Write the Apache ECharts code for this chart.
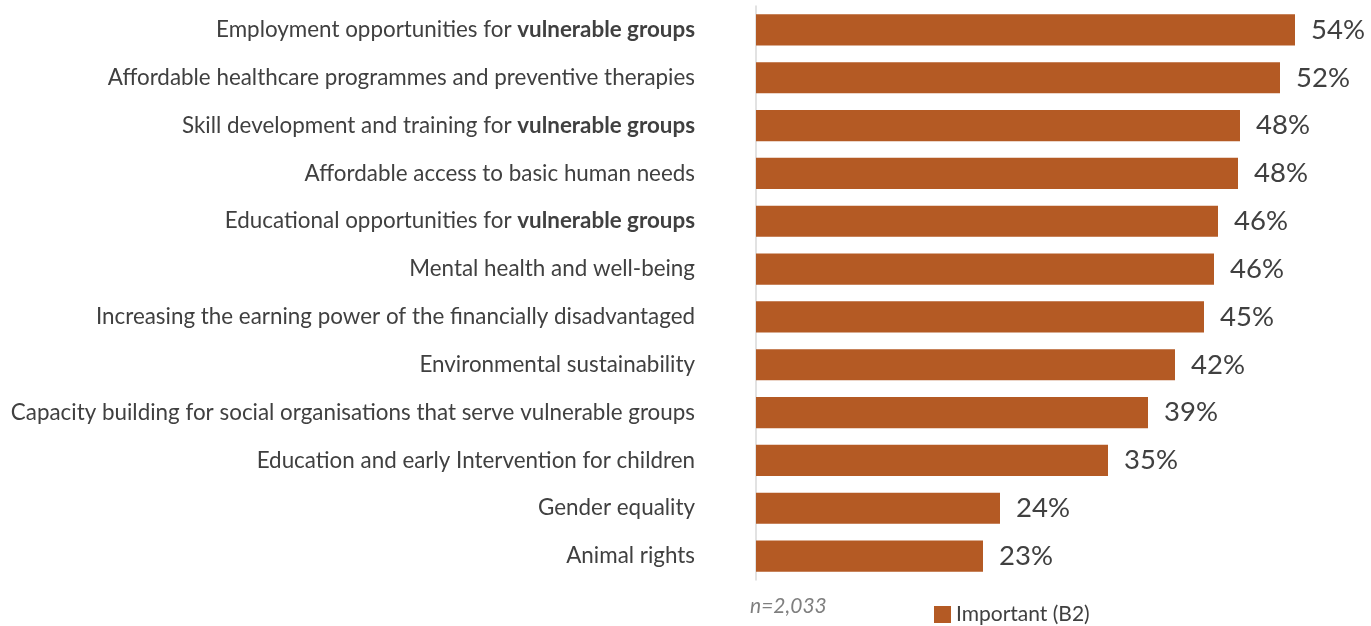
<!DOCTYPE html>
<html>
<head>
<meta charset="utf-8">
<script src="https://cdn.jsdelivr.net/npm/echarts@6/dist/echarts.min.js"></script>
<style>
html,body{margin:0;padding:0;background:#fff;}
#chart{width:1371px;height:626px;}
</style>
</head>
<body>
<div id="chart"></div>
<script>
// Categories (top to bottom); [normal part, bold part]
const categories = [
  ["Employment opportunities for ", "vulnerable groups"],
  ["Affordable healthcare programmes and preventive therapies", ""],
  ["Skill development and training for ", "vulnerable groups"],
  ["Affordable access to basic human needs", ""],
  ["Educational opportunities for ", "vulnerable groups"],
  ["Mental health and well-being", ""],
  ["Increasing the earning power of the financially disadvantaged", ""],
  ["Environmental sustainability", ""],
  ["Capacity building for social organisations that serve vulnerable groups", ""],
  ["Education and early Intervention for children", ""],
  ["Gender equality", ""],
  ["Animal rights", ""]
];
const importantValues = [53.9, 52.4, 48.4, 48.2, 46.2, 45.8, 44.8, 41.9, 39.2, 35.2, 24.4, 22.7];
const seriesName = "Important (B2)";
const noteText = "n=2,033";

const FONT = "Lato";
const catKeys = categories.map((c, i) => "c" + i);

const chart = echarts.init(document.getElementById('chart'));
chart.setOption({
  animation: false,
  textStyle: { fontFamily: FONT },
  grid: { left: 756, top: 6, width: 600, height: 574, containLabel: false },
  xAxis: {
    type: 'value', min: 0, max: 60, show: false
  },
  yAxis: {
    type: 'category',
    inverse: true,
    data: catKeys,
    axisLine: { show: true, lineStyle: { color: '#d9d9d9', width: 1.5 } },
    axisTick: { show: false },
    axisLabel: {
      margin: 61,
      formatter: function (v) {
        const c = categories[catKeys.indexOf(v)];
        return c[1] ? '{n|' + c[0] + '}{b|' + c[1] + '}' : '{n|' + c[0] + '}';
      },
      rich: {
        n: { fontFamily: FONT, fontSize: 22.4, color: '#404040' },
        b: { fontFamily: FONT, fontSize: 22.4, color: '#404040', fontWeight: 'bold' }
      }
    }
  },
  legend: {
    left: 929, top: 599,
    icon: 'rect', itemWidth: 17, itemHeight: 17, itemGap: 8,
    textStyle: { fontFamily: FONT, fontSize: 21, color: '#404040' },
    data: [seriesName]
  },
  graphic: [{
    type: 'text', left: 750, top: 596,
    style: { text: noteText, fontFamily: FONT, fontSize: 21, fontStyle: 'italic', fill: '#7f7f7f' }
  }],
  series: [{
    name: seriesName,
    type: 'bar',
    data: importantValues,
    barCategoryGap: '35%',
    itemStyle: { color: '#B45A24' },
    label: {
      show: true, position: 'right', distance: 16,
      formatter: p => Math.round(p.value) + '%',
      fontFamily: FONT, fontSize: 27.5, color: '#404040'
    }
  }]
});
</script>
</body>
</html>
